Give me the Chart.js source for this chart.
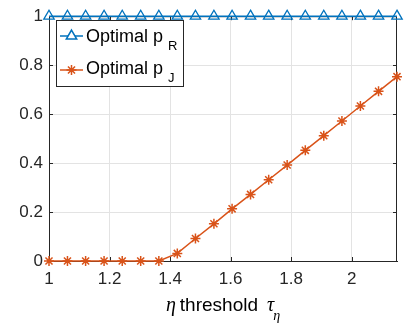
<!DOCTYPE html>
<html>
<head>
<meta charset="utf-8">
<script src="https://cdn.jsdelivr.net/npm/chart.js@4.4.0/dist/chart.umd.min.js"></script>
<style>
    html, body { margin: 0; padding: 0; background: #fff; }
</style>
</head>
<body>
<canvas id="chtOptimal" width="414" height="330"></canvas>
<script>
'use strict';
// threshold values on the x axis
const tauThreshold = [1.000, 1.061, 1.121, 1.182, 1.242, 1.303, 1.363, 1.424, 1.484, 1.545,
    1.605, 1.666, 1.726, 1.787, 1.847, 1.908, 1.968, 2.029, 2.089, 2.150];
const optimalPR = [1, 1, 1, 1, 1, 1, 1, 1, 1, 1, 1, 1, 1, 1, 1, 1, 1, 1, 1, 1];
const optimalPJ = [0, 0, 0, 0, 0, 0, 0, 0.031, 0.092, 0.152,
    0.213, 0.272, 0.332, 0.392, 0.452, 0.512, 0.572, 0.633, 0.693, 0.753];

const xTickValues = [1, 1.2, 1.4, 1.6, 1.8, 2];
const xTickLabels = ['1', '1.2', '1.4', '1.6', '1.8', '2'];
const yTickValues = [0, 0.2, 0.4, 0.6, 0.8, 1];
const yTickLabels = ['0', '0.2', '0.4', '0.6', '0.8', '1'];
const seriesNames = ['Optimal p', 'Optimal p'];
const seriesSubs = ['R', 'J'];

const BLUE = '#0072BD';
const ORANGE = '#D95319';
const AXIS = '#262626';
const SANS = '"Liberation Sans", Arial, sans-serif';
const SERIF = '"Liberation Serif", "Times New Roman", serif';

const toPoints = (ys) => ys.map((y, i) => ({ x: tauThreshold[i], y: y }));

const axesFrame = {
    id: 'axesFrame',
    beforeDatasetsDraw(chart) {
        const { ctx, chartArea: a, scales } = chart;
        ctx.save();
        ctx.strokeStyle = AXIS;
        ctx.lineWidth = 1;
        ctx.beginPath();
        ctx.moveTo(a.left, a.top + 0.5);
        ctx.lineTo(a.right, a.top + 0.5);
        ctx.moveTo(a.right - 0.5, a.top);
        ctx.lineTo(a.right - 0.5, a.bottom);
        xTickValues.forEach((v) => {
            var px = Math.round(scales.x.getPixelForValue(v)) + 0.5;
            ctx.moveTo(px, a.bottom);
            ctx.lineTo(px, a.bottom - 4);
            ctx.moveTo(px, a.top);
            ctx.lineTo(px, a.top + 4);
        });
        yTickValues.forEach((v) => {
            var py = Math.round(scales.y.getPixelForValue(v)) + 0.5;
            ctx.moveTo(a.left, py);
            ctx.lineTo(a.left + 4, py);
            ctx.moveTo(a.right, py);
            ctx.lineTo(a.right - 4, py);
        });
        ctx.stroke();
        ctx.restore();
    },
    afterDraw(chart) {
        const { ctx, chartArea: a } = chart;
        ctx.save();

        // legend
        ctx.fillStyle = '#fff';
        ctx.fillRect(56, 20, 127, 67);
        ctx.strokeStyle = AXIS;
        ctx.lineWidth = 1;
        ctx.strokeRect(56.5, 20.5, 127, 66);

        var rows = [36, 70];
        var colors = [BLUE, ORANGE];
        var styles = ['triangle', 'star'];
        rows.forEach((ry, i) => {
            ctx.strokeStyle = colors[i];
            ctx.lineWidth = 1.5;
            ctx.beginPath();
            ctx.moveTo(60, ry);
            ctx.lineTo(83, ry);
            ctx.stroke();
            ctx.fillStyle = '#fff';
            Chart.helpers.drawPoint(ctx, { pointStyle: styles[i], radius: i == 0 ? 6 : 5, borderWidth: 1.3, rotation: 0 }, 71.5, ry);

            ctx.fillStyle = '#000';
            ctx.textAlign = 'left';
            ctx.textBaseline = 'alphabetic';
            ctx.font = '18px ' + SANS;
            ctx.fillText(seriesNames[i], 86, ry + 4 + (i == 0 ? 0 : -2) + 2);
            ctx.font = '13px ' + SANS;
            ctx.fillText(seriesSubs[i], 168, ry + 14 + (i == 0 ? 0 : -2));
        });

        // x axis title: "η threshold τ_η"
        var parts = [
            { t: '\u03B7', f: 'italic 20px ' + SERIF, dy: 0, gap: 4 },
            { t: 'threshold', f: '19px ' + SANS, dy: 0, gap: 9 },
            { t: '\u03C4', f: 'italic 20px ' + SERIF, dy: 0, gap: -1 },
            { t: '\u03B7', f: 'italic 14px ' + SERIF, dy: 9, gap: 0 }
        ];
        var total = 0;
        parts.forEach((p) => { ctx.font = p.f; p.w = ctx.measureText(p.t).width; total += p.w + p.gap; });
        var cx = (a.left + a.right) / 2 - total / 2;
        ctx.fillStyle = '#000';
        parts.forEach((p) => {
            ctx.font = p.f;
            ctx.fillText(p.t, cx, 311 + p.dy);
            cx += p.w + p.gap;
        });
        ctx.restore();
    }
};

new Chart(document.getElementById('chtOptimal'), {
    type: 'line',
    data: {
        datasets: [
            {
                label: 'Optimal p_R',
                data: toPoints(optimalPR),
                borderColor: BLUE,
                backgroundColor: '#fff',
                borderWidth: 1.5,
                pointStyle: 'triangle',
                pointRadius: 6,
                pointBorderWidth: 1.3,
                pointBackgroundColor: 'rgba(255,255,255,0)',
                pointBorderColor: BLUE,
                tension: 0,
                clip: false,
                order: 2
            }, {
                label: 'Optimal p_J',
                data: toPoints(optimalPJ),
                borderColor: ORANGE,
                borderWidth: 1.5,
                pointStyle: 'star',
                pointRadius: 5,
                pointBorderWidth: 1.5,
                pointBorderColor: ORANGE,
                pointBackgroundColor: ORANGE,
                tension: 0,
                clip: false,
                order: 1
            }
        ]
    },
    options: {
        responsive: false,
        devicePixelRatio: 1,
        animation: { duration: 0 },
        layout: { padding: { left: 0, right: 17, top: 14, bottom: 0 } },
        plugins: {
            legend: { display: false },
            tooltip: { enabled: false }
        },
        scales: {
            x: {
                type: 'linear',
                min: 1,
                max: 2.15,
                afterBuildTicks(scale) {
                    scale.ticks = xTickValues.map((v) => ({ value: v }));
                },
                afterFit(scale) {
                    scale.height = 69;
                },
                ticks: {
                    color: AXIS,
                    font: { family: SANS, size: 17 },
                    padding: 8,
                    maxRotation: 0,
                    autoSkip: false,
                    callback: (value, index) => xTickLabels[index]
                },
                grid: { color: '#e3e3e3', drawTicks: false },
                border: { color: AXIS, width: 1 }
            },
            y: {
                type: 'linear',
                min: 0,
                max: 1,
                afterBuildTicks(scale) {
                    scale.ticks = yTickValues.map((v) => ({ value: v }));
                },
                afterFit(scale) {
                    scale.width = 49;
                },
                ticks: {
                    color: AXIS,
                    font: { family: SANS, size: 17 },
                    padding: 6,
                    autoSkip: false,
                    callback: (value, index) => yTickLabels[index]
                },
                grid: { color: '#e3e3e3', drawTicks: false },
                border: { color: AXIS, width: 1 }
            }
        }
    },
    plugins: [axesFrame]
});
</script>
</body>
</html>
